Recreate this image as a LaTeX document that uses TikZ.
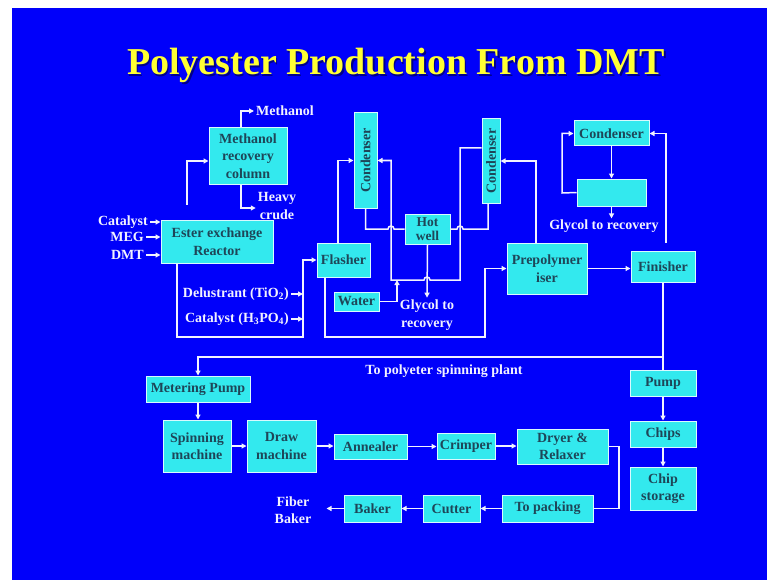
\documentclass[tikz,border=0pt]{standalone}
\usepackage{fontspec}
\setmainfont{Liberation Serif}
\usetikzlibrary{arrows.meta,calc}
\definecolor{bgblue}{HTML}{0000FA}
\definecolor{boxfill}{HTML}{33E9EE}
\definecolor{boxedge}{HTML}{D8FAFF}
\definecolor{boxtext}{HTML}{1E4658}
\definecolor{labc}{HTML}{F2F2FF}
\definecolor{ttl}{HTML}{FFFF33}
\begin{document}
\begin{tikzpicture}[x=1pt,y=-1pt,
 pbox/.style={draw=boxedge,fill=boxfill,line width=1pt,text=boxtext,align=center,inner sep=1pt,font=\bfseries\fontsize{14}{17.5}\selectfont},
 lbl/.style={text=labc,align=center,inner sep=2pt,font=\bfseries\fontsize{14}{17.5}\selectfont},
 ln/.style={draw=labc,line width=1.5pt},
 arr/.style={ln,-{Triangle[length=5pt,width=5pt]}},
]
\fill[white] (0,0) rectangle (767,580);
\fill[bgblue] (12,8) rectangle (767,580);
\useasboundingbox (0,0) rectangle (767,580);

% title
\node[font=\bfseries\fontsize{38}{40}\selectfont,text=black,opacity=0.45,anchor=base] (ttlshadow) at (397.5,76.5) {Polyester Production From DMT};
\node[font=\bfseries\fontsize{38}{40}\selectfont,text=ttl,anchor=base] (title) at (396,75) {Polyester Production From DMT};

% boxes
\node[pbox,minimum width=78pt,minimum height=56pt] (meth) at (248,156) {Methanol\\recovery\\column};
\node[pbox,minimum width=112pt,minimum height=43pt] (ester) at (217,241.5) {Ester exchange\\Reactor};
\node[pbox,minimum width=53pt,minimum height=34pt] (flash) at (343.5,260) {Flasher};
\node[pbox,minimum width=23pt,minimum height=95pt] (condA) at (365.5,160.5) {\rotatebox{90}{Condenser}};
\node[pbox,minimum width=45pt,minimum height=30pt,font=\bfseries\fontsize{13.5}{14}\selectfont] (hot) at (427.5,229) {Hot\\well};
\node[pbox,minimum width=18pt,minimum height=84pt] (condB) at (491,161) {\rotatebox{90}{Condenser}};
\node[pbox,minimum width=45pt,minimum height=19pt] (water) at (356.5,301.5) {Water};
\node[pbox,minimum width=80pt,minimum height=51pt] (prep) at (547,268.5) {Prepolymer\\iser};
\node[pbox,minimum width=75pt,minimum height=25pt] (condC) at (611.5,133.5) {Condenser};
\node[pbox,minimum width=69pt,minimum height=27pt] (blank) at (611.5,192.5) {};
\node[pbox,minimum width=64pt,minimum height=31pt] (fin) at (663,266.5) {Finisher};
\node[pbox,minimum width=104pt,minimum height=26pt] (meter) at (198,389) {Metering Pump};
\node[pbox,minimum width=66pt,minimum height=26pt] (pump) at (663,383) {Pump};
\node[pbox,minimum width=66pt,minimum height=26pt] (chips) at (663,434) {Chips};
\node[pbox,minimum width=66pt,minimum height=43pt] (store) at (663,488.5) {Chip\\storage};
\node[pbox,minimum width=68pt,minimum height=52pt] (spin) at (197,446) {Spinning\\machine};
\node[pbox,minimum width=69pt,minimum height=52pt] (drawm) at (281.5,446) {Draw\\machine};
\node[pbox,minimum width=73pt,minimum height=25pt] (anneal) at (370.5,446.5) {Annealer};
\node[pbox,minimum width=58pt,minimum height=26pt] (crimp) at (466,446) {Crimper};
\node[pbox,minimum width=91pt,minimum height=35pt] (dryer) at (562.5,446.5) {Dryer \&\\Relaxer};
\node[pbox,minimum width=91pt,minimum height=27pt] (pack) at (547.5,508.5) {To packing};
\node[pbox,minimum width=57pt,minimum height=27pt] (cut) at (451.5,508.5) {Cutter};
\node[pbox,minimum width=57pt,minimum height=27pt] (baker) at (372.5,508.5) {Baker};

% labels
\node[lbl,anchor=west] (tmeth) at (254,111) {Methanol};
\node[lbl] (theavy) at (277,206) {Heavy\\crude};
\node[lbl,anchor=east] (tcat) at (150,222) {Catalyst};
\node[lbl,anchor=east] (tmeg) at (146,237) {MEG};
\node[lbl,anchor=east] (tdmt) at (146,255) {DMT};
\node[lbl,anchor=east] (tdel) at (291,294) {Delustrant (TiO\textsubscript{2})};
\node[lbl,anchor=east] (tcat2) at (291,319) {Catalyst (H\textsubscript{3}PO\textsubscript{4})};
\node[lbl] (tgly1) at (427,315) {Glycol to\\recovery};
\node[lbl,inner sep=1pt] (tgly2) at (604,226) {Glycol to recovery};
\node[lbl] (tspin) at (444,371) {To polyeter spinning plant};
\node[lbl] (tfib) at (293,510) {Fiber\\Baker};

% junction coordinates
\coordinate (j1) at (303,337);
\coordinate (j2) at (485,337);
\coordinate (l1) at (391,280);
\coordinate (l2) at (460,280);
\coordinate (l3) at (397,280);
\coordinate (l4) at (562,193);
\coordinate (j3) at (663,357);
\coordinate (l5) at (619,447);

% connectors
\draw[arr] ([xshift=-7pt]meth.north) |- (tmeth.west);
\draw[arr] ([xshift=-7pt]meth.south) |- ([yshift=-2pt]theavy.west);
\draw[arr] ([xshift=-30pt,yshift=15pt]ester.north) |- ([yshift=-5pt]meth.west);
\draw[arr] (tcat.east) -- (tcat.east -| ester.west);
\draw[arr] (tmeg.east) -- (tmeg.east -| ester.west);
\draw[arr] (tdmt.east) -- (tdmt.east -| ester.west);
\draw[arr] ([xshift=-40pt]ester.south) |- (j1) |- (flash.west);
\draw[arr] (tdel.east) -- (tdel.east -| j1);
\draw[arr] (tcat2.east) -- (tcat2.east -| j1);
\draw[arr] ([xshift=-5.5pt]flash.north) |- (condA.west);
\draw[arr] ([yshift=13pt]condB.west) -| (l2) -- (430,280) arc[start angle=0,end angle=180,radius=3pt] -- (l1) |- (condA.east);
\draw[ln] (condA.south) |- (388,229) arc[start angle=180,end angle=0,radius=3pt] -- (hot.west);
\draw[ln] ([xshift=-3pt]condB.south) |- (463,229) arc[start angle=0,end angle=180,radius=3pt] -- (hot.east);
\draw[arr] (hot.south) -- (tgly1.north);
\draw[arr] (water.east) -| (l3);
\draw[arr] ([xshift=-18.5pt]flash.south) |- (j2) |- (prep.west);
\draw[arr] ([xshift=-11pt]prep.north) |- (condB.east);
\draw[arr] (prep.east) -- (prep.east -| fin.west);
\draw[arr] ([xshift=3pt,yshift=8pt]fin.north) |- (condC.east);
\draw[arr] (condC.south) -- (blank.north);
\draw[arr] (blank.west) -- (l4) |- (condC.west);
\draw[arr] (blank.south) -- (blank.south |- tgly2.north);
\draw[ln] (fin.south) -- (pump.north);
\draw[arr] (j3) -| (meter.north);
\draw[arr] (pump.south) -- (chips.north);
\draw[arr] (chips.south) -- (store.north);
\draw[arr] (meter.south) -- (meter.south |- spin.north);
\draw[arr] (spin.east) -- (drawm.west);
\draw[arr] (drawm.east) -- (drawm.east -| anneal.west);
\draw[arr] (anneal.east) -- (anneal.east -| crimp.west);
\draw[arr] (crimp.east) -- (crimp.east -| dryer.west);
\draw[ln] (dryer.east) -- (dryer.east -| l5) |- (pack.east);
\draw[arr] (pack.west) -- (cut.east);
\draw[arr] (cut.west) -- (baker.east);
\draw[arr] (baker.west) -- ([xshift=-17pt]baker.west);
\end{tikzpicture}
\end{document}
